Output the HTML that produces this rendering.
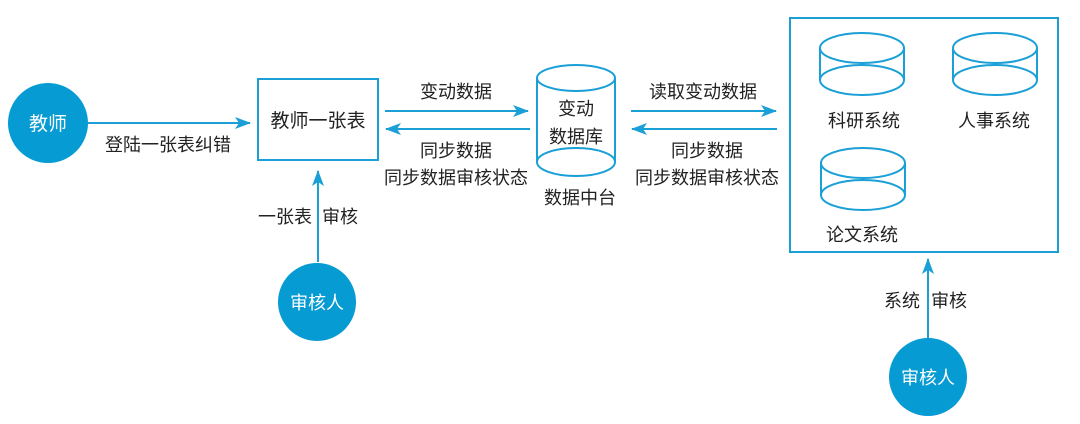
<!DOCTYPE html>
<html><head><meta charset="utf-8"><style>
body{margin:0;background:#fff}
svg text{font-family:"Liberation Sans","Noto Sans CJK SC",sans-serif;font-size:18px;fill:#222}
</style></head><body>
<svg width="1080" height="419" viewBox="0 0 1080 419" xmlns="http://www.w3.org/2000/svg">
<defs><marker id="a" markerWidth="16" markerHeight="12" refX="15" refY="6" orient="auto" markerUnits="userSpaceOnUse"><path d="M0,0 L16,6 L0,12 L4,6z" fill="#1a9fd6"/></marker></defs>
<g stroke="#1a9fd6" stroke-width="2" fill="none">
<line x1="88" y1="123" x2="250" y2="123" marker-end="url(#a)"/>
<rect x="258" y="79" width="120" height="81"/>
<line x1="385" y1="111" x2="528" y2="111" marker-end="url(#a)"/>
<line x1="530" y1="129" x2="386" y2="129" marker-end="url(#a)"/>
<ellipse cx="576" cy="78" rx="39" ry="13"/>
<ellipse cx="576" cy="162" rx="39" ry="14"/>
<line x1="537" y1="78" x2="537" y2="162"/><line x1="615" y1="78" x2="615" y2="162"/>
<line x1="631" y1="111" x2="776" y2="111" marker-end="url(#a)"/>
<line x1="777" y1="129" x2="632" y2="129" marker-end="url(#a)"/>
<rect x="790" y="18" width="268" height="234"/>
<g id="c"><ellipse cx="862" cy="48" rx="42" ry="15"/><ellipse cx="862" cy="80" rx="42" ry="15"/><line x1="820" y1="48" x2="820" y2="80"/><line x1="904" y1="48" x2="904" y2="80"/></g>
<use href="#c" x="133"/>
<use href="#c" x="1" y="115"/>
<line x1="318" y1="262" x2="318" y2="171" marker-end="url(#a)"/>
<line x1="928" y1="338" x2="928" y2="259" marker-end="url(#a)"/>
</g>
<circle cx="48" cy="123" r="40" fill="#069bd2"/>
<circle cx="317" cy="302" r="39" fill="#069bd2"/>
<circle cx="928" cy="377" r="39" fill="#069bd2"/>
<g text-anchor="middle">
<text x="48" y="130" style="fill:#fff;font-size:19px">教师</text>
<text x="317" y="309" style="fill:#fff">审核人</text>
<text x="928" y="384" style="fill:#fff">审核人</text>
<text x="168" y="151">登陆一张表纠错</text>
<text x="318" y="127" style="font-size:19px">教师一张表</text>
<text x="456" y="98">变动数据</text>
<text x="456" y="157">同步数据</text>
<text x="456" y="184">同步数据审核状态</text>
<text x="576" y="115">变动</text>
<text x="576" y="143">数据库</text>
<text x="580" y="204">数据中台</text>
<text x="703" y="98">读取变动数据</text>
<text x="707" y="157">同步数据</text>
<text x="707" y="184">同步数据审核状态</text>
<text x="864" y="127">科研系统</text>
<text x="994" y="127">人事系统</text>
<text x="862" y="241">论文系统</text>
</g>
<rect x="255" y="203" width="130" height="22" fill="#fff"/>
<text x="258" y="223">一张表</text><line x1="318" y1="203" x2="318" y2="228" stroke="#1a9fd6" stroke-width="2"/><text x="322" y="223">审核</text>
<rect x="880" y="286" width="100" height="22" fill="#fff"/>
<text x="884" y="307">系统</text><line x1="928" y1="286" x2="928" y2="312" stroke="#1a9fd6" stroke-width="2"/><text x="931" y="307">审核</text>
</svg>
</body></html>
